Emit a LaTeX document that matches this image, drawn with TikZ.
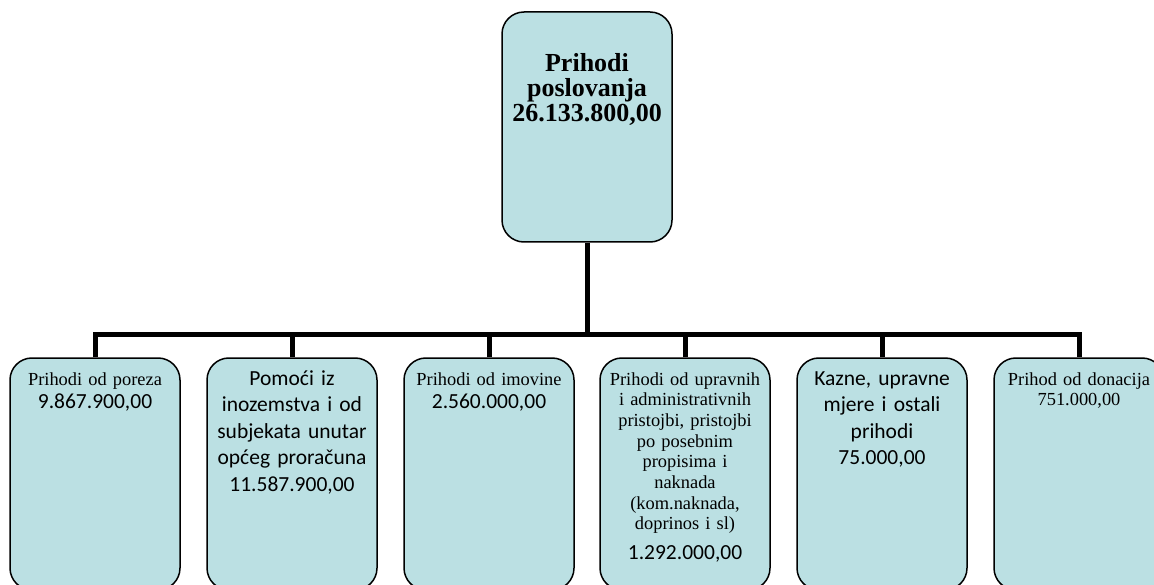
\documentclass[tikz,border=0pt]{standalone}
\usepackage{fontspec}
\setmainfont{Liberation Serif}
\newfontfamily\calib{Carlito}
\usetikzlibrary{positioning}

\definecolor{boxfill}{RGB}{187,224,227}
\newcommand{\tn}{\rmfamily\fontsize{18.4}{20.7}\selectfont}
\newcommand{\cb}{\calib\fontsize{21.5}{26.5}\selectfont}

\tikzset{
  box/.style={draw=black,line width=1.5pt,fill=boxfill,rounded corners=22pt,
    minimum width=170pt,text width=162pt,align=center,inner xsep=4pt,inner ysep=7pt},
  leaf/.style={box,font=\tn,text height=20pt,text depth=198pt},
  link/.style={line width=5pt,draw=black}
}

\begin{document}
\begin{tikzpicture}[x=1pt,y=-1pt]

\def\boxY{474}
\def\hubY{334.5}

\useasboundingbox (0,0) rectangle (1154,585);

% top box:
\node[box,text height=53pt,text depth=163pt,font=\bfseries\fontsize{26}{25}\selectfont] (root) at (587,127)
  {Prihodi\\ poslovanja\\ 26.133.800,00};

% bottom boxes:
\node[leaf] (p1) at (95,\boxY) {Prihodi od poreza\\[2.3pt] \cb 9.867.900,00};
\node[leaf,font=\cb] (p2) at (292,\boxY) {Pomoći iz\\ inozemstva i od\\ subjekata unutar\\ općeg proračuna\\ 11.587.900,00};
\node[leaf] (p3) at (489,\boxY) {Prihodi od imovine\\[2.3pt] \cb 2.560.000,00};
\node[leaf] (p4) at (685,\boxY) {Prihodi od upravnih\\ i administrativnih\\ pristojbi, pristojbi\\ po posebnim\\ propisima i\\ naknada\\ (kom.naknada,\\ doprinos i sl)\\[9pt] \cb 1.292.000,00};
\node[leaf,font=\cb] (p5) at (882,\boxY) {Kazne, upravne\\ mjere i ostali\\ prihodi\\ 75.000,00};
\node[leaf] (p6) at (1079,\boxY) {Prihod od donacija\\ 751.000,00};

% connectors:
\coordinate (hub) at (587,\hubY);
\draw[link] (root.south) -- (hub);
\draw[link] (p1.north) |- (hub) -| (p6.north);
\foreach \i in {2,...,5}
  \draw[link] (p\i.north) -- (p\i.north |- hub);

\end{tikzpicture}
\end{document}
